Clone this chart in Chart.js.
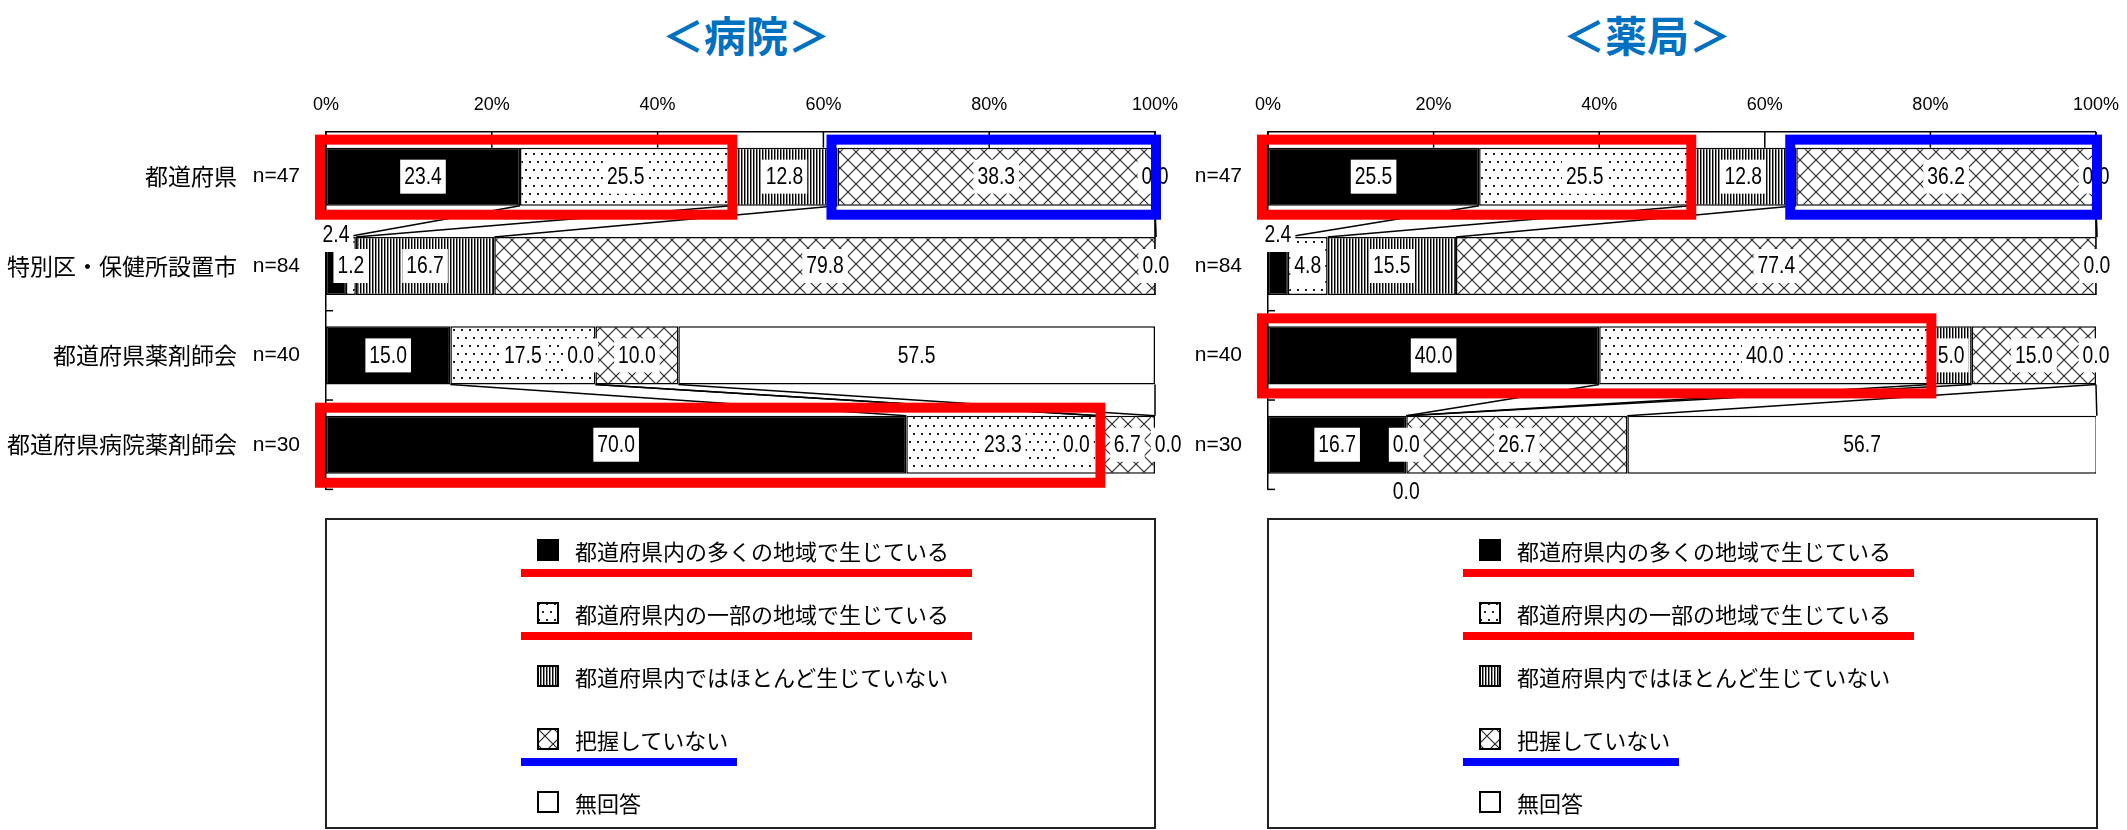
<!DOCTYPE html>
<html lang="ja">
<head>
<meta charset="UTF-8">
<title>病院・薬局</title>
<script src="https://cdn.jsdelivr.net/npm/chart.js@4.4.1/dist/chart.umd.min.js"></script>
<style>
  body { margin:0; background:#fff; width:2127px; height:830px; overflow:hidden; position:relative; font-family:'Noto Sans CJK JP', sans-serif; }
  .titulo { position:absolute; top:9px; width:400px; text-align:center; font-size:42px; font-weight:bold; color:#0070C0; line-height:50px; }
  canvas.grafico { position:absolute; top:80px; }
  .leyenda { position:absolute; top:518px; width:831px; height:311px; border:2px solid #222; box-sizing:border-box; }
  .item { position:absolute; left:210px; height:30px; display:flex; align-items:center; font-size:22px; color:#000; white-space:nowrap; }
  .item canvas { margin-right:16px; }
  .subraya { position:absolute; left:194px; height:8px; }
</style>
</head>
<body>
<div class="titulo" style="left:546px">＜病院＞</div>
<div class="titulo" style="left:1447px">＜薬局＞</div>

<canvas id="hospital" class="grafico" width="1195" height="440" style="left:0"></canvas>
<canvas id="pharmacy" class="grafico" width="967" height="440" style="left:1160px"></canvas>

<div class="leyenda" id="legHospital" style="left:325px"></div>
<div class="leyenda" id="legPharmacy" style="left:1267px"></div>

<script>
// datos
const rowLabels = ['都道府県', '特別区・保健所設置市', '都道府県薬剤師会', '都道府県病院薬剤師会'];
const nLabels = ['n=47', 'n=84', 'n=40', 'n=30'];
const seriesNames = ['都道府県内の多くの地域で生じている', '都道府県内の一部の地域で生じている', '都道府県内ではほとんど生じていない', '把握していない', '無回答'];
const xTickLabels = ['0%', '20%', '40%', '60%', '80%', '100%'];

const hospitalMany     = [23.4,  2.4, 15.0, 70.0];
const hospitalSome     = [25.5,  1.2, 17.5, 23.3];
const hospitalFew      = [12.8, 16.7,  0.0,  0.0];
const hospitalUnknown  = [38.3, 79.8, 10.0,  6.7];
const hospitalNoAnswer = [ 0.0,  0.0, 57.5,  0.0];

const pharmacyMany     = [25.5,  2.4, 40.0, 16.7];
const pharmacySome     = [25.5,  4.8, 40.0,  0.0];
const pharmacyFew      = [12.8, 15.5,  5.0,  0.0];
const pharmacyUnknown  = [36.2, 77.4, 15.0, 26.7];
const pharmacyNoAnswer = [ 0.0,  0.0,  0.0, 56.7];

// marcos rojos / azules (fila, primer y ultimo segmento)
const hospitalHighlights = [
  { row: 0, from: 0, to: 1, color: '#ff0000' },
  { row: 0, from: 3, to: 4, color: '#0000ff' },
  { row: 3, from: 0, to: 1, color: '#ff0000' }
];
const pharmacyHighlights = [
  { row: 0, from: 0, to: 1, color: '#ff0000' },
  { row: 0, from: 3, to: 4, color: '#0000ff' },
  { row: 2, from: 0, to: 1, color: '#ff0000' }
];
const connectorPairs = [[0, 1], [2, 3]];
// subrayado de la leyenda
const legendMarks = [
  { item: 0, color: '#ff0000', width: 451 },
  { item: 1, color: '#ff0000', width: 451 },
  { item: 3, color: '#0000ff', width: 216 }
];

const NUM_FONT = '"Liberation Sans", Arial, sans-serif';
const CJK_FONT = '"Noto Sans CJK JP", sans-serif';
const NUM_SIZE = 23;
const SQUEEZE = 0.84;   // los numeros del original son estrechos
const LABEL_H = 34;
const GAP = 16;
const GAP_RIGHT = 6;

// tramas
function makeTile(w, h, draw) {
  const c = document.createElement('canvas');
  c.width = w; c.height = h;
  const g = c.getContext('2d');
  g.fillStyle = '#fff';
  g.fillRect(0, 0, w, h);
  draw(g, w, h);
  return c;
}
const tiles = [
  null,
  makeTile(8, 16, g => { g.fillStyle = '#222'; g.fillRect(1, 1, 2, 2); g.fillRect(5, 9, 2, 2); }),
  makeTile(3, 4, g => { g.fillStyle = '#000'; g.fillRect(0, 0, 1, 4); g.fillStyle = '#888'; g.fillRect(1, 0, 1, 4); }),
  makeTile(16, 16, (g, w) => {
    g.strokeStyle = '#2a2a2a'; g.lineWidth = 1.2;
    g.beginPath();
    [-w, 0, w].forEach(d => {
      g.moveTo(d, 0); g.lineTo(d + w, w);
      g.moveTo(d + w, 0); g.lineTo(d, w);
    });
    g.stroke();
  }),
  null
];
function fillFor(ctx, k) {
  if (k === 0) return '#000';
  if (k === 4) return '#fff';
  return ctx.createPattern(tiles[k], 'repeat');
}

function barBox(chart, k, r) {
  const p = chart.getDatasetMeta(k).data[r].getProps(['x', 'y', 'base', 'height'], true);
  return { left: Math.min(p.x, p.base), right: Math.max(p.x, p.base), top: p.y - p.height / 2, bottom: p.y + p.height / 2, cy: p.y };
}

// posicion de las etiquetas de cada barra
function layoutLabels(chart, r, ctx) {
  const items = chart.data.datasets.map((ds, k) => {
    const b = barBox(chart, k, r);
    const v = ds.data[r];
    const text = v.toFixed(1);
    const w = ctx.measureText(text).width * SQUEEZE + 8;
    return { k, v, text, w, b, cx: (b.left + b.right) / 2, cy: b.cy, place: 'in' };
  });
  const first = items[0];
  if (first.v > 0 && first.b.right - first.b.left < first.w) {
    first.place = 'above';
    first.cy = first.b.top - 2;
  }
  items.forEach((it, i) => {
    if (it.v !== 0) return;
    const twin = items.slice(0, i).find(o => o.place === 'in' && o.v === 0 && Math.abs(o.cx - it.cx) < 1);
    if (twin) { it.place = 'below'; it.cy = it.b.bottom + LABEL_H / 2 + 1; }
  });
  const inside = items.filter(it => it.place === 'in');
  inside.forEach((it, i) => {
    if (it.v !== 0) return;
    const next = inside[i + 1], prev = inside[i - 1];
    if (next && it.cx + it.w / 2 + GAP > next.cx - next.w / 2) {
      it.cx = next.cx - next.w / 2 - GAP - it.w / 2;
    } else if (prev && it.cx - it.w / 2 - GAP_RIGHT < prev.cx + prev.w / 2) {
      it.cx = prev.cx + prev.w / 2 + GAP_RIGHT + it.w / 2;
    }
  });
  return items;
}

const decor = {
  id: 'decor',
  afterDatasetsDraw(chart, args, opts) {
    const ctx = chart.ctx, area = chart.chartArea, xs = chart.scales.x, ys = chart.scales.y;
    const line = (x1, y1, x2, y2) => { ctx.beginPath(); ctx.moveTo(x1, y1); ctx.lineTo(x2, y2); ctx.stroke(); };
    ctx.save();
    ctx.strokeStyle = '#000';
    ctx.lineWidth = 1.5;
    const top = barBox(chart, 0, 0);
    xs.ticks.forEach((t, i) => { const x = xs.getPixelForTick(i); line(x, area.top, x, top.top); });
    line(area.right, area.top, area.right, barBox(chart, 0, 1).bottom);
    for (let i = 1; i <= ys.ticks.length; i++) {
      const y = ys.getPixelForValue(i - 0.5);
      line(area.left, y, area.left + 7, y);
    }
    // lineas de serie
    opts.pairs.forEach(([a, b]) => {
      chart.data.datasets.forEach((ds, k) => {
        const A = barBox(chart, k, a), B = barBox(chart, k, b);
        line(A.right, A.bottom, B.right, B.top);
      });
    });
    // etiquetas
    ctx.font = NUM_SIZE + 'px ' + NUM_FONT;
    ctx.textAlign = 'center';
    ctx.textBaseline = 'middle';
    chart.data.labels.forEach((lab, r) => {
      layoutLabels(chart, r, ctx).forEach(it => {
        ctx.fillStyle = '#fff';
        ctx.fillRect(it.cx - it.w / 2, it.cy - LABEL_H / 2, it.w, LABEL_H);
        ctx.fillStyle = '#000';
        ctx.save();
        ctx.translate(it.cx, it.cy + 1);
        ctx.scale(SQUEEZE, 1);
        ctx.fillText(it.text, 0, 0);
        ctx.restore();
      });
    });
    // marcos
    ctx.lineWidth = 10;
    opts.highlights.forEach(h => {
      const s = barBox(chart, h.from, h.row), e = barBox(chart, h.to, h.row);
      const x0 = s.left - 6, x1 = e.right + 1, y0 = s.top - 8, y1 = s.bottom + 9;
      ctx.strokeStyle = h.color;
      ctx.strokeRect(x0, y0, x1 - x0, y1 - y0);
    });
    ctx.restore();
  }
};

function buildChart(id, series, highlights, nWidth, nameWidth, padRight) {
  const ctx = document.getElementById(id).getContext('2d');
  const scales = {
    x: {
      position: 'top', stacked: true, min: 0, max: 100,
      grid: { display: false },
      border: { display: true, color: '#000', width: 1.5 },
      ticks: { stepSize: 20, padding: 8, color: '#000', font: { family: NUM_FONT, size: 18 }, callback: (v, i) => xTickLabels[i] },
      afterFit: s => { s.height = 52; }
    },
    y: {
      type: 'category', position: 'left', stacked: true, offset: true, weight: 0,
      grid: { display: false },
      border: { display: true, color: '#000', width: 1.5 },
      ticks: { padding: 18, color: '#000', font: { family: NUM_FONT, size: 21 } },
      afterFit: s => { s.width = nWidth; }
    }
  };
  if (nameWidth) {
    scales.yName = {
      type: 'category', position: 'left', labels: rowLabels, offset: true, weight: 1,
      grid: { display: false },
      border: { display: false },
      ticks: { padding: 1, color: '#000', font: { family: CJK_FONT, size: 23 } },
      afterFit: s => { s.width = nameWidth; }
    };
  }
  return new Chart(ctx, {
    type: 'bar',
    data: {
      labels: nLabels,
      datasets: series.map((arr, k) => ({
        label: seriesNames[k],
        data: arr,
        backgroundColor: fillFor(ctx, k),
        borderColor: '#000',
        borderWidth: 1.5,
        borderSkipped: false,
        barPercentage: 0.65,
        categoryPercentage: 1,
        yAxisID: 'y'
      }))
    },
    options: {
      indexAxis: 'y',
      responsive: false,
      animation: false,
      layout: { padding: { left: 0, right: padRight, top: 0, bottom: 30 } },
      plugins: {
        legend: { display: false },
        tooltip: { enabled: false },
        decor: { pairs: connectorPairs, highlights: highlights }
      },
      scales: scales
    },
    plugins: [decor]
  });
}

buildChart('hospital', [hospitalMany, hospitalSome, hospitalFew, hospitalUnknown, hospitalNoAnswer], hospitalHighlights, 80, 246, 40);
buildChart('pharmacy', [pharmacyMany, pharmacySome, pharmacyFew, pharmacyUnknown, pharmacyNoAnswer], pharmacyHighlights, 108, 0, 28);

// leyendas
function buildLegend(id) {
  const box = document.getElementById(id);
  seriesNames.forEach((name, k) => {
    const cy = 30 + 63 * k;
    const row = document.createElement('div');
    row.className = 'item';
    row.style.top = (cy - 15) + 'px';
    const sw = document.createElement('canvas');
    sw.width = 22; sw.height = 22;
    const g = sw.getContext('2d');
    g.fillStyle = fillFor(g, k);
    g.fillRect(0, 0, 22, 22);
    g.strokeStyle = '#000'; g.lineWidth = 2;
    g.strokeRect(1, 1, 20, 20);
    row.appendChild(sw);
    const tx = document.createElement('span');
    tx.textContent = name;
    row.appendChild(tx);
    box.appendChild(row);
  });
  legendMarks.forEach(m => {
    const u = document.createElement('div');
    u.className = 'subraya';
    u.style.top = (30 + 63 * m.item + 23 - 4) + 'px';
    u.style.width = m.width + 'px';
    u.style.background = m.color;
    box.appendChild(u);
  });
}
buildLegend('legHospital');
buildLegend('legPharmacy');
</script>
</body>
</html>
